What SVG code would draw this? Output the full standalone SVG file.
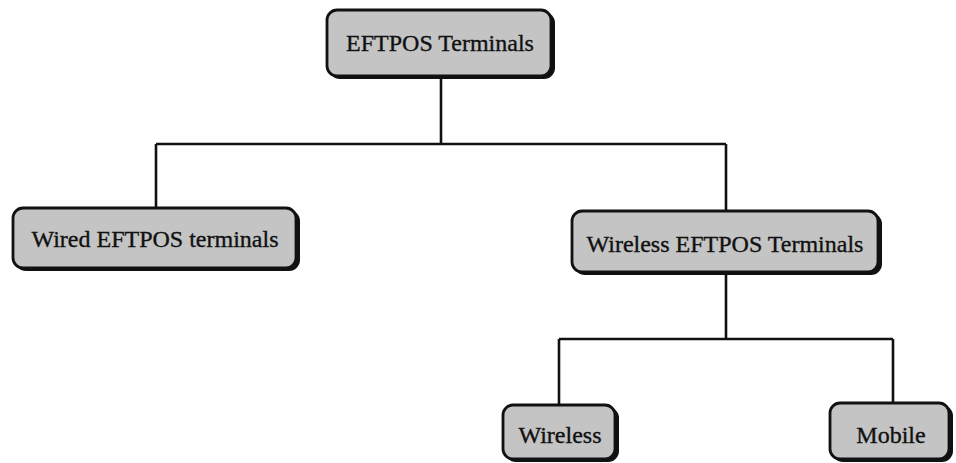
<svg xmlns="http://www.w3.org/2000/svg" width="956" height="463" viewBox="0 0 956 463">
<style>
.box{fill:#c4c4c4;stroke:#111;stroke-width:2.8}
.shadow{fill:#111}
.lbl{font-family:"Liberation Serif","Times New Roman",serif;font-size:24px;fill:#111;stroke:#111;stroke-width:0.35;text-anchor:middle}
.conn{stroke:#111;stroke-width:2.6;fill:none}
</style>
<rect width="956" height="463" fill="#fff"/>
<g id="connectors">
<path class="conn" d="M441 77V144M156 144H726M156 144V208M726 144V211"/>
<path class="conn" d="M726 273V339M559 339H893M559 339V405M893 339V403"/>
</g>
<g id="node-eftpos">
<rect class="shadow" x="329" y="12" width="226" height="67" rx="11"/>
<rect class="box" x="327" y="10" width="224" height="66" rx="10"/>
<text class="lbl" x="440" y="51">EFTPOS Terminals</text>
</g>
<g id="node-wired">
<rect class="shadow" x="15" y="210" width="285" height="61" rx="11"/>
<rect class="box" x="13" y="208" width="283" height="60" rx="10"/>
<text class="lbl" x="155" y="247">Wired EFTPOS terminals</text>
</g>
<g id="node-wireless-eftpos">
<rect class="shadow" x="574" y="213" width="308" height="62" rx="11"/>
<rect class="box" x="572" y="211" width="306" height="61" rx="10"/>
<text class="lbl" x="725" y="252">Wireless EFTPOS Terminals</text>
</g>
<g id="node-wireless">
<rect class="shadow" x="505" y="407" width="114" height="55" rx="11"/>
<rect class="box" x="503" y="405" width="112" height="54" rx="10"/>
<text class="lbl" x="560" y="443">Wireless</text>
</g>
<g id="node-mobile">
<rect class="shadow" x="832" y="405" width="121" height="57" rx="11"/>
<rect class="box" x="830" y="403" width="119" height="56" rx="10"/>
<text class="lbl" x="891" y="443">Mobile</text>
</g>
</svg>
